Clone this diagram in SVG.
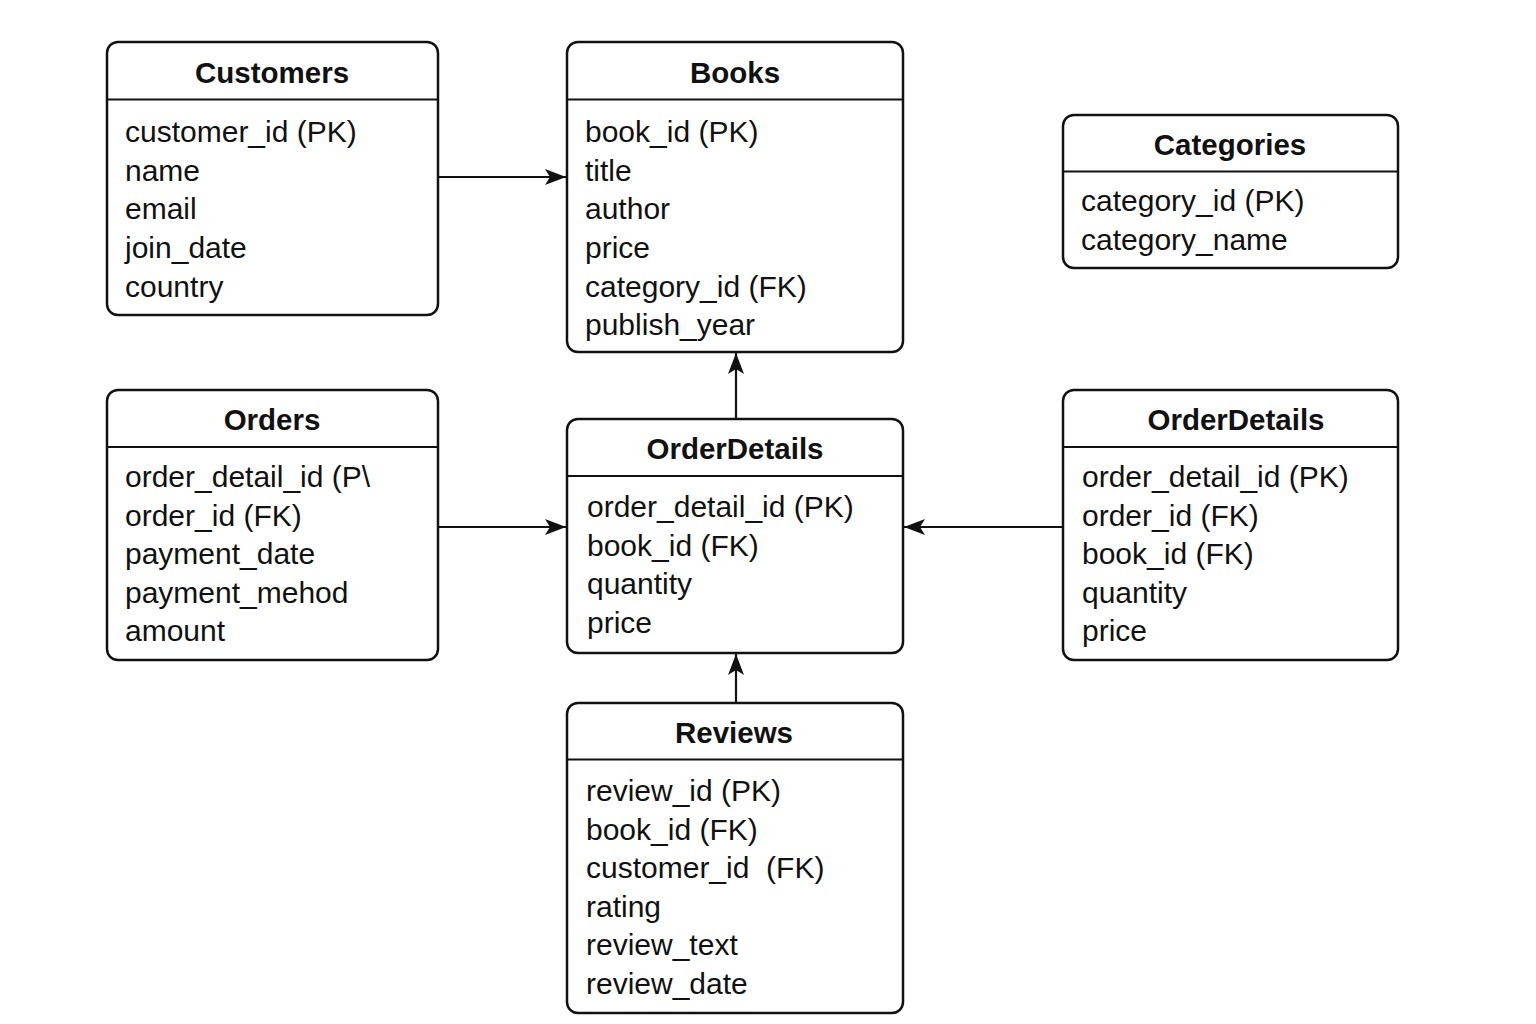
<svg xmlns="http://www.w3.org/2000/svg" width="1536" height="1024" viewBox="0 0 1536 1024">
<style>
.box{fill:#fff;stroke:#111;stroke-width:2.5}
.hl{stroke:#111;stroke-width:2.2}
.t{font-family:"Liberation Sans",Arial,sans-serif;font-size:29.5px;font-weight:bold;fill:#111;text-anchor:middle}
.f{font-family:"Liberation Sans",Arial,sans-serif;font-size:30px;fill:#111}
.c{stroke:#111;stroke-width:2.2;fill:none}
</style>
<defs>
<marker id="ah" markerUnits="userSpaceOnUse" markerWidth="22" markerHeight="20" viewBox="0 0 22 20" refX="21" refY="10" orient="auto">
<path d="M0,2 L21,10 L0,18 L5,10 Z" fill="#111"/>
</marker>
</defs>
<rect width="1536" height="1024" fill="#fff"/>
<g id="connectors">
<line class="c" x1="439" y1="177" x2="566" y2="177" marker-end="url(#ah)"/>
<line class="c" x1="439" y1="527" x2="566" y2="527" marker-end="url(#ah)"/>
<line class="c" x1="1062" y1="527" x2="904" y2="527" marker-end="url(#ah)"/>
<line class="c" x1="736" y1="419" x2="736" y2="353" marker-end="url(#ah)"/>
<line class="c" x1="736" y1="703" x2="736" y2="654" marker-end="url(#ah)"/>
</g>
<g id="customers">
<rect class="box" x="107" y="42" width="331" height="273" rx="11"/>
<line class="hl" x1="107" y1="99.5" x2="438" y2="99.5"/>
<text class="t" x="272" y="83">Customers</text>
<text class="f" x="125" y="142">customer_id (PK)</text>
<text class="f" x="125" y="180.5">name</text>
<text class="f" x="125" y="219">email</text>
<text class="f" x="125" y="258">join_date</text>
<text class="f" x="125" y="296.5">country</text>
</g>
<g id="books">
<rect class="box" x="567" y="42" width="336" height="310" rx="11"/>
<line class="hl" x1="567" y1="99.5" x2="903" y2="99.5"/>
<text class="t" x="735" y="83">Books</text>
<text class="f" x="585" y="142">book_id (PK)</text>
<text class="f" x="585" y="180.5">title</text>
<text class="f" x="585" y="219">author</text>
<text class="f" x="585" y="258">price</text>
<text class="f" x="585" y="296.5">category_id (FK)</text>
<text class="f" x="585" y="335">publish_year</text>
</g>
<g id="categories">
<rect class="box" x="1063" y="115" width="335" height="153" rx="11"/>
<line class="hl" x1="1063" y1="171.5" x2="1398" y2="171.5"/>
<text class="t" x="1230" y="155">Categories</text>
<text class="f" x="1081" y="211">category_id (PK)</text>
<text class="f" x="1081" y="249.5">category_name</text>
</g>
<g id="orders">
<rect class="box" x="107" y="390" width="331" height="270" rx="11"/>
<line class="hl" x1="107" y1="447" x2="438" y2="447"/>
<text class="t" x="272" y="430">Orders</text>
<text class="f" x="125" y="487">order_detail_id (P\</text>
<text class="f" x="125" y="525.5">order_id (FK)</text>
<text class="f" x="125" y="564">payment_date</text>
<text class="f" x="125" y="602.5">payment_mehod</text>
<text class="f" x="125" y="641">amount</text>
</g>
<g id="orderdetails-center">
<rect class="box" x="567" y="419" width="336" height="234" rx="11"/>
<line class="hl" x1="567" y1="476" x2="903" y2="476"/>
<text class="t" x="735" y="459">OrderDetails</text>
<text class="f" x="587" y="517">order_detail_id (PK)</text>
<text class="f" x="587" y="555.5">book_id (FK)</text>
<text class="f" x="587" y="594">quantity</text>
<text class="f" x="587" y="632.5">price</text>
</g>
<g id="orderdetails-right">
<rect class="box" x="1063" y="390" width="335" height="270" rx="11"/>
<line class="hl" x1="1063" y1="447" x2="1398" y2="447"/>
<text class="t" x="1236" y="430">OrderDetails</text>
<text class="f" x="1082" y="487">order_detail_id (PK)</text>
<text class="f" x="1082" y="525.5">order_id (FK)</text>
<text class="f" x="1082" y="564">book_id (FK)</text>
<text class="f" x="1082" y="602.5">quantity</text>
<text class="f" x="1082" y="641">price</text>
</g>
<g id="reviews">
<rect class="box" x="567" y="703" width="336" height="310" rx="11"/>
<line class="hl" x1="567" y1="759.5" x2="903" y2="759.5"/>
<text class="t" x="734" y="743">Reviews</text>
<text class="f" x="586" y="801">review_id (PK)</text>
<text class="f" x="586" y="839.5">book_id (FK)</text>
<text class="f" x="586" y="878">customer_id&#160; (FK)</text>
<text class="f" x="586" y="916.5">rating</text>
<text class="f" x="586" y="955">review_text</text>
<text class="f" x="586" y="993.5">review_date</text>
</g>
</svg>
